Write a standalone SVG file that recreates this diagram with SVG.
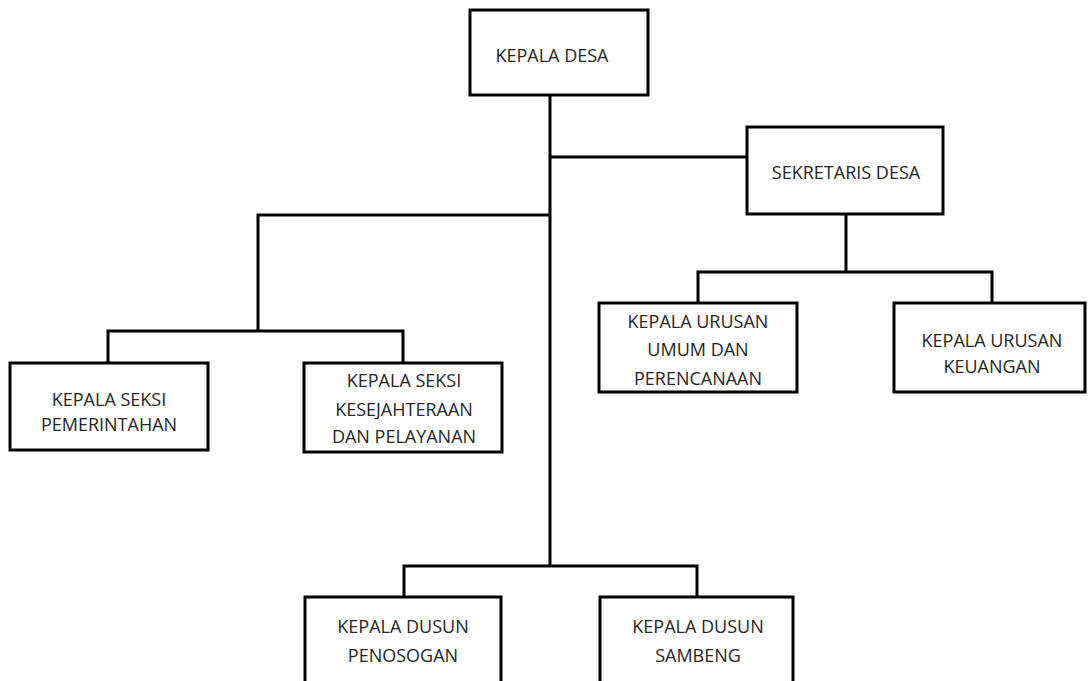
<svg xmlns="http://www.w3.org/2000/svg" width="1089" height="681" viewBox="0 0 1089 681">
<style>
.box{fill:#fff;stroke:#000;stroke-width:3}
.ln{fill:none;stroke:#000;stroke-width:3}
text{font-family:"Open Sans","Liberation Sans",sans-serif;font-size:18px;fill:#262626;text-anchor:middle}
</style>
<rect width="1089" height="681" fill="#fff"/>
<g id="connectors">
<path class="ln" d="M550 95V566"/>
<path class="ln" d="M550 157H747"/>
<path class="ln" d="M550 215H258V331"/>
<path class="ln" d="M108 363V331H403V363"/>
<path class="ln" d="M846 214V272"/>
<path class="ln" d="M698 303V272H992V303"/>
<path class="ln" d="M404 597V566H697V597"/>
</g>
<g id="kepala-desa"><rect class="box" x="470" y="10" width="178" height="85"/><text x="552" y="62">KEPALA DESA</text></g>
<g id="sekretaris-desa"><rect class="box" x="747" y="127" width="196" height="87"/><text x="846" y="179">SEKRETARIS DESA</text></g>
<g id="kasi-pemerintahan"><rect class="box" x="10" y="363" width="198" height="87"/><text x="109" y="406">KEPALA SEKSI</text><text x="109" y="431">PEMERINTAHAN</text></g>
<g id="kasi-kesejahteraan"><rect class="box" x="304" y="363" width="198" height="89"/><text x="404" y="387">KEPALA SEKSI</text><text x="404" y="416">KESEJAHTERAAN</text><text x="404" y="443">DAN PELAYANAN</text></g>
<g id="kaur-umum"><rect class="box" x="599" y="303" width="198" height="89"/><text x="698" y="328">KEPALA URUSAN</text><text x="698" y="356">UMUM DAN</text><text x="698" y="385">PERENCANAAN</text></g>
<g id="kaur-keuangan"><rect class="box" x="894" y="303" width="191" height="89"/><text x="992" y="347">KEPALA URUSAN</text><text x="992" y="373">KEUANGAN</text></g>
<g id="kadus-penosogan"><rect class="box" x="305" y="597" width="196" height="100"/><text x="403" y="633">KEPALA DUSUN</text><text x="403" y="662">PENOSOGAN</text></g>
<g id="kadus-sambeng"><rect class="box" x="600" y="597" width="193" height="100"/><text x="698" y="633">KEPALA DUSUN</text><text x="698" y="662">SAMBENG</text></g>
</svg>
